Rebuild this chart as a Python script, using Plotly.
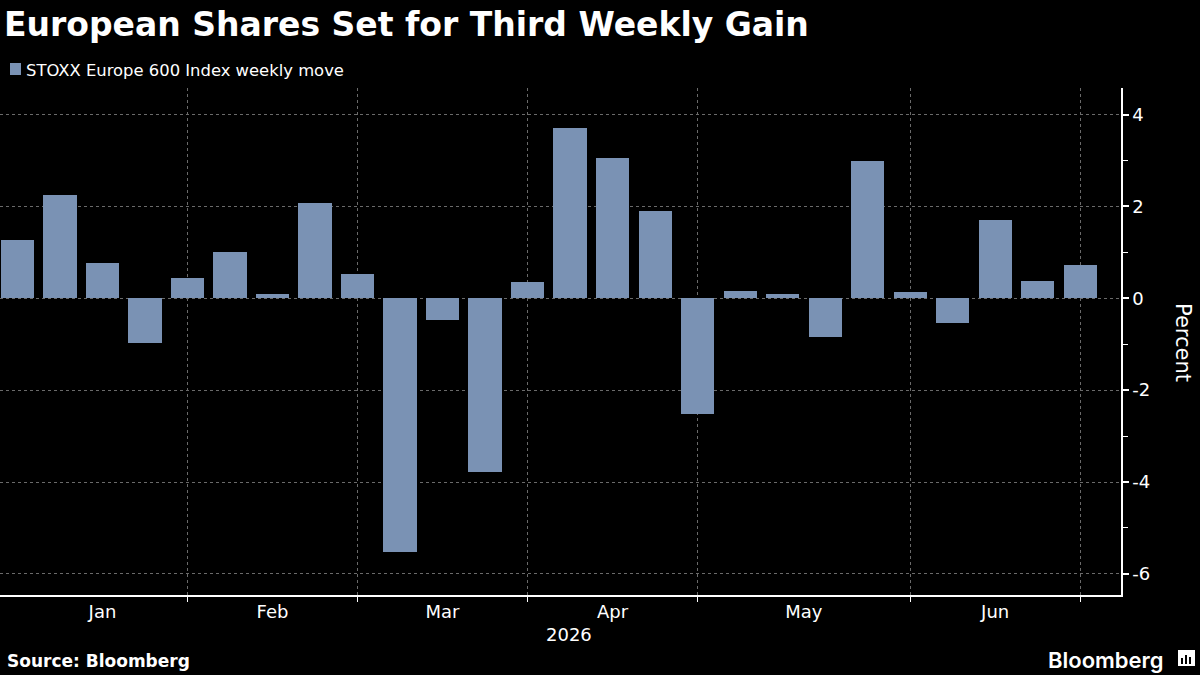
import plotly.graph_objects as go
import pandas as pd

# ---- data ----
week_ending = pd.date_range("2026-01-09", periods=26, freq="7D")
weekly_move = [1.27, 2.26, 0.76, -0.97, 0.44, 1.00, 0.09, 2.07, 0.52, -5.52,
               -0.47, -3.78, 0.35, 3.71, 3.05, 1.90, -2.52, 0.15, 0.09, -0.85,
               2.99, 0.13, -0.54, 1.70, 0.37, 0.72]
series_name = "STOXX Europe 600 Index weekly move"
y_ticks = [-6, -4, -2, 0, 2, 4]
y_minor = [-5, -3, -1, 1, 3]
title = "European Shares Set for Third Weekly Gain"
source = "Source: Bloomberg"

BAR = "#7a92b4"
GRID = "#6a6a6a"
FONT = "DejaVu Sans"

idx = list(range(len(week_ending)))
months = [d.month for d in week_ending]
# first bar index of each new month -> gridlines
bounds = [i for i in range(1, len(months)) if months[i] != months[i - 1]]
starts = [0] + bounds
label_pos, label_txt = [], []
for k in range(len(starts) - 1):
    label_pos.append((starts[k] + starts[k + 1]) / 2)
    label_txt.append(week_ending[starts[k]].strftime("%b"))

fig = go.Figure()
fig.add_trace(go.Bar(x=idx, y=weekly_move, marker=dict(color=BAR, line=dict(width=0)),
                     width=0.78, name=series_name, showlegend=False))

fig.update_layout(
    width=1200, height=675,
    paper_bgcolor="black", plot_bgcolor="black",
    margin=dict(l=0, r=79, t=88, b=80),
    font=dict(family=FONT, color="white", size=16),
    bargap=0,
    xaxis=dict(
        range=[-0.41, 25.96],
        tickmode="array", tickvals=label_pos, ticktext=label_txt,
        ticks="", showgrid=False, zeroline=False,
        showline=True, linecolor="white", linewidth=1.5,
        tickfont=dict(size=18, color="white", family=FONT),
        minor=dict(tickmode="array", tickvals=bounds, ticks="outside", ticklen=5,
                   tickcolor="white", tickwidth=1, showgrid=True,
                   gridcolor=GRID, griddash="dot", gridwidth=1),
    ),
    yaxis=dict(
        side="right", range=[-6.46, 4.58],
        tickmode="array", tickvals=y_ticks, ticktext=[str(v) for v in y_ticks],
        ticks="outside", ticklen=6, tickcolor="white", tickwidth=1.5,
        showgrid=True, gridcolor=GRID, griddash="dot", gridwidth=1,
        zeroline=False,
        showline=True, linecolor="white", linewidth=1.5,
        tickfont=dict(size=18, color="white", family=FONT),
        minor=dict(tickmode="array", tickvals=y_minor, ticks="outside", ticklen=5,
                   tickcolor="white", tickwidth=1, showgrid=False),
    ),
)

plot_l, plot_r, plot_t, plot_b = 0, 1121, 88, 595
def px_to_paper(x, y):
    return (x - plot_l) / (plot_r - plot_l), (plot_b - y) / (plot_b - plot_t)

annotations = []
specs = [
    (f"<b>{title}</b>", 2, 24, "left", 33, FONT, 0, None),
    (series_name, 24, 70, "left", 16.4, FONT, 0, None),
    (f"<b>{source}</b>", 5, 661, "left", 17, FONT, 0, None),
    ("2026", 569, 634, "center", 18, FONT, 0, None),
    ("Bloomberg", 1046, 660, "left", 22, "Inter", 0, 600),
    ("Percent", 1183, 342, "center", 21, FONT, 90, None),
]
for text, x, y, xa, size, fam, ang, wt in specs:
    px, py = px_to_paper(x, y)
    f = dict(size=size, color="white", family=fam)
    if wt:
        f["weight"] = wt
    annotations.append(dict(text=text, x=px, y=py, xref="paper", yref="paper",
                            xanchor=xa, yanchor="middle", showarrow=False,
                            textangle=ang, font=f))
fig.update_layout(annotations=annotations)

shapes = []
def rect(x0, y0, x1, y1, color):
    a0, b0 = px_to_paper(x0, y0)
    a1, b1 = px_to_paper(x1, y1)
    return dict(type="rect", xref="paper", yref="paper", x0=a0, y0=b0, x1=a1, y1=b1,
                fillcolor=color, line=dict(width=0), layer="above")
shapes.append(rect(10, 63, 21, 75, BAR))
# logo icon
shapes.append(rect(1178, 650, 1195, 666, "white"))
shapes.append(rect(1181, 658, 1183, 664, "black"))
shapes.append(rect(1185, 655, 1187, 664, "black"))
shapes.append(rect(1189, 657, 1191, 664, "black"))
fig.update_layout(shapes=shapes)

fig.write_html("out.html")
